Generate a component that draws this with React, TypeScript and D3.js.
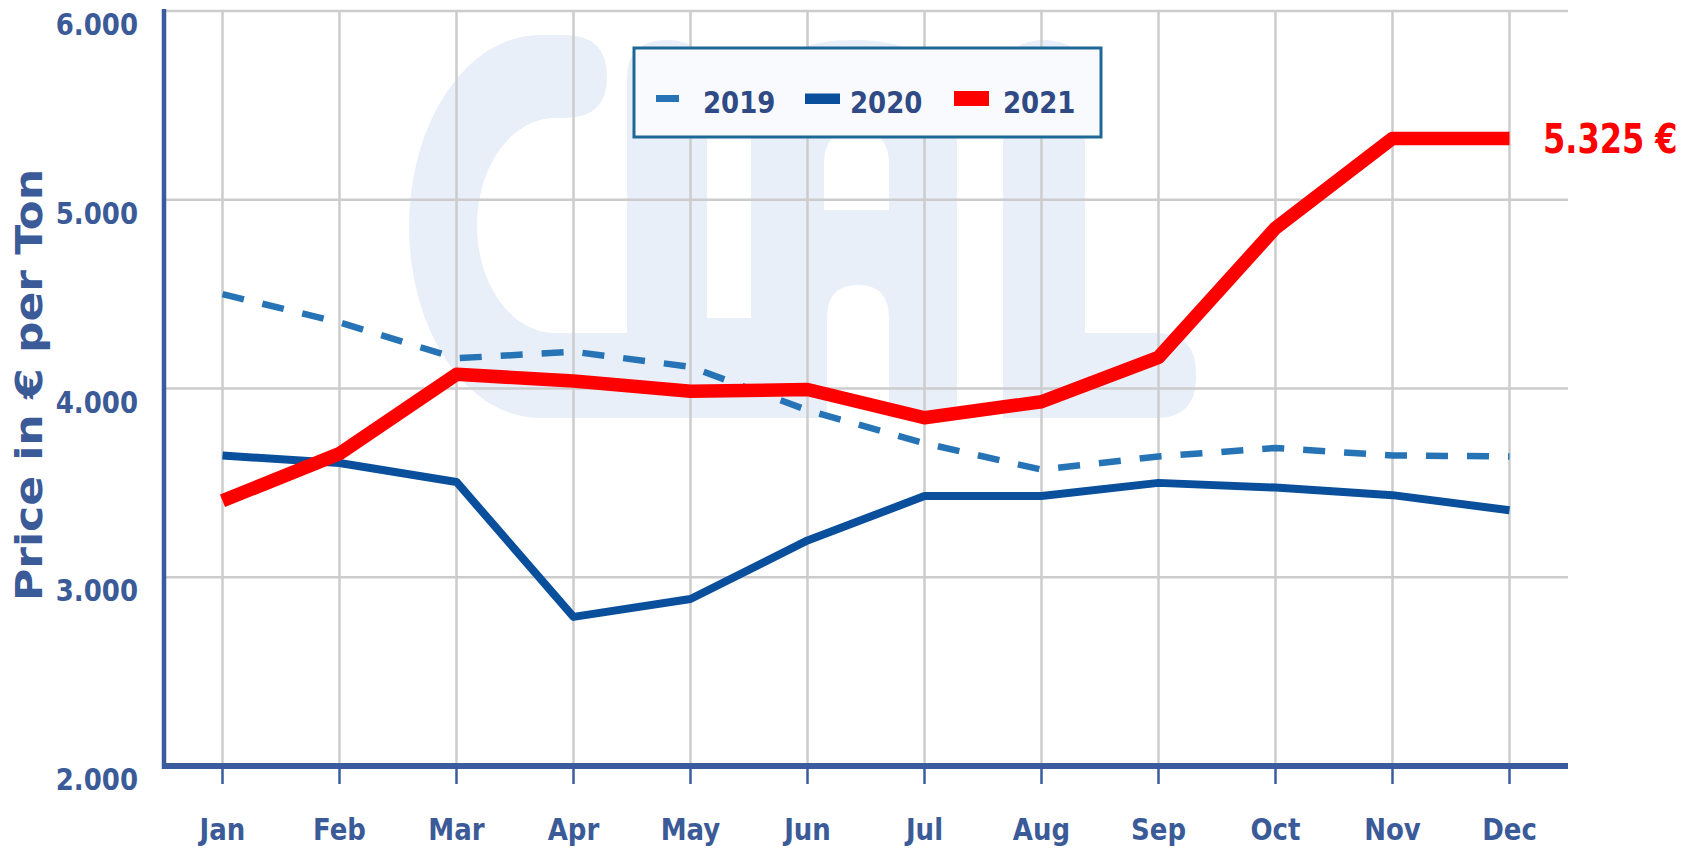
import React from "react";
import * as d3 from "d3";

const months = ["Jan", "Feb", "Mar", "Apr", "May", "Jun", "Jul", "Aug", "Sep", "Oct", "Nov", "Dec"];
const series2019 = [4500, 4350, 4160, 4195, 4115, 3885, 3710, 3570, 3640, 3685, 3645, 3640];
const series2020 = [3645, 3605, 3505, 2790, 2885, 3195, 3430, 3430, 3500, 3475, 3435, 3355];
const series2021 = [3405, 3655, 4075, 4040, 3985, 3995, 3845, 3930, 4165, 4850, 5325, 5325];
const yTicks = [2000, 3000, 4000, 5000, 6000];
const yTickLabels = ["2.000", "3.000", "4.000", "5.000", "6.000"];
const legendLabels = ["2019", "2020", "2021"];
const endLabel = "5.325 €";
const yTitle = "Price in € per Ton";

const W = 1696;
const H = 849;
const X0 = 164;
const X1 = 1568;
const Y0 = 766;
const Y1 = 11;
const FONT = "'DejaVu Sans', Verdana, sans-serif";
const AXIS = "#3a5c9e";
const TEXT = "#3b5a98";
const LEG_TEXT = "#2f4a84";
const C2019 = "#2673b6";
const C2020 = "#0a4f9b";
const C2021 = "#ff0000";
const WM = "#e9eff9";
const SX = 0.84;

export default function App() {
  const x = d3.scalePoint<string>().domain(months).range([X0, X1]).padding(0.5);
  const y = d3.scaleLinear().domain([2000, 6000]).range([Y0, Y1]);
  const line = d3
    .line<number>()
    .x((_, i) => x(months[i]) as number)
    .y((d) => y(d))
    .curve(d3.curveLinear);

  return (
    <svg width={W} height={H} style={{ position: "absolute", left: 0, top: 0, background: "#fff" }}>
      <rect x={0} y={0} width={W} height={H} fill="#fff" />
      {/* watermark CLAL */}
      <g fill={WM} stroke="none">
        <path d="M 540 35 L 565 35 Q 607 35 607 77 Q 607 118 565 118 L 555 118 A 78 107.5 0 0 0 555 333 L 640 333 L 640 418 L 540 418 A 131 191.5 0 0 1 540 35 Z" />
        <path d="M 627 418 V 78 Q 627 40 667 40 Q 707 40 707 78 V 318 H 760 V 418 Z" />
        <path
          fillRule="evenodd"
          d="M 751 418 V 125 Q 751 40 854 40 Q 957 40 957 125 V 418 H 889 V 318 Q 889 285 858 285 Q 827 285 827 318 V 418 Z M 824 210 V 164 Q 824 130 856 130 Q 889 130 889 164 V 210 Z"
        />
        <path d="M 1003 418 V 80 Q 1003 40 1044 40 Q 1085 40 1085 80 V 333 H 1156 Q 1196 333 1196 373 V 378 Q 1196 418 1156 418 Z" />
      </g>
      {/* gridlines */}
      <g stroke="#cccccc" strokeWidth={2.5}>
        {yTicks.slice(1).map((t) => (
          <line key={"h" + t} x1={X0} x2={X1} y1={y(t)} y2={y(t)} />
        ))}
        {months.map((m) => (
          <line key={"v" + m} x1={x(m)} x2={x(m)} y1={Y1} y2={Y0} />
        ))}
      </g>
      {/* axes */}
      <line x1={X0} x2={X0} y1={Y1 - 2} y2={Y0 + 3} stroke={AXIS} strokeWidth={4.5} />
      <line x1={X0 - 2} x2={X1} y1={Y0} y2={Y0} stroke={AXIS} strokeWidth={6} />
      <g stroke={AXIS} strokeWidth={2.5}>
        {months.map((m) => (
          <line key={"t" + m} x1={x(m)} x2={x(m)} y1={Y0} y2={Y0 + 18} />
        ))}
      </g>
      {/* tick labels */}
      <g fill={TEXT} fontFamily={FONT} fontWeight="bold" fontSize={31}>
        {yTicks.map((t, i) => (
          <text key={"yl" + t} textAnchor="end" transform={`translate(138,${y(t) + 24}) scale(${SX},1)`}>
            {yTickLabels[i]}
          </text>
        ))}
        {months.map((m) => (
          <text key={"xl" + m} textAnchor="middle" transform={`translate(${x(m)},840) scale(${SX},1)`}>
            {m}
          </text>
        ))}
      </g>
      <text
        fill={TEXT}
        fontFamily={FONT}
        fontWeight="bold"
        fontSize={44}
        textAnchor="middle"
        transform={`translate(42,385) scale(${SX},1) rotate(-90)`}
      >
        {yTitle}
      </text>
      {/* lines */}
      <path d={line(series2019) || ""} fill="none" stroke={C2019} strokeWidth={6.5} strokeDasharray="22,19" />
      <path d={line(series2020) || ""} fill="none" stroke={C2020} strokeWidth={8} strokeLinejoin="round" />
      <path d={line(series2021) || ""} fill="none" stroke={C2021} strokeWidth={13.5} strokeLinejoin="round" />
      {/* end label */}
      <text
        fill={C2021}
        fontFamily={FONT}
        fontWeight="bold"
        fontSize={40}
        textAnchor="start"
        transform={`translate(1543,${y(series2021[11]) + 15}) scale(0.8,1)`}
      >
        {endLabel}
      </text>
      {/* legend */}
      <rect x={634} y={48} width={467} height={89} fill="#f9fafe" stroke="#1e6898" strokeWidth={3} />
      <rect x={656} y={95} width={23} height={7} fill={C2019} />
      <rect x={805} y={93.5} width={35} height={10.5} fill={C2020} />
      <rect x={954} y={91} width={35} height={15} fill={C2021} />
      <g fill={LEG_TEXT} fontFamily={FONT} fontWeight="bold" fontSize={31}>
        {[703, 850, 1003].map((lx, i) => (
          <text key={"lg" + i} transform={`translate(${lx},112.5) scale(${SX},1)`}>
            {legendLabels[i]}
          </text>
        ))}
      </g>
    </svg>
  );
}
